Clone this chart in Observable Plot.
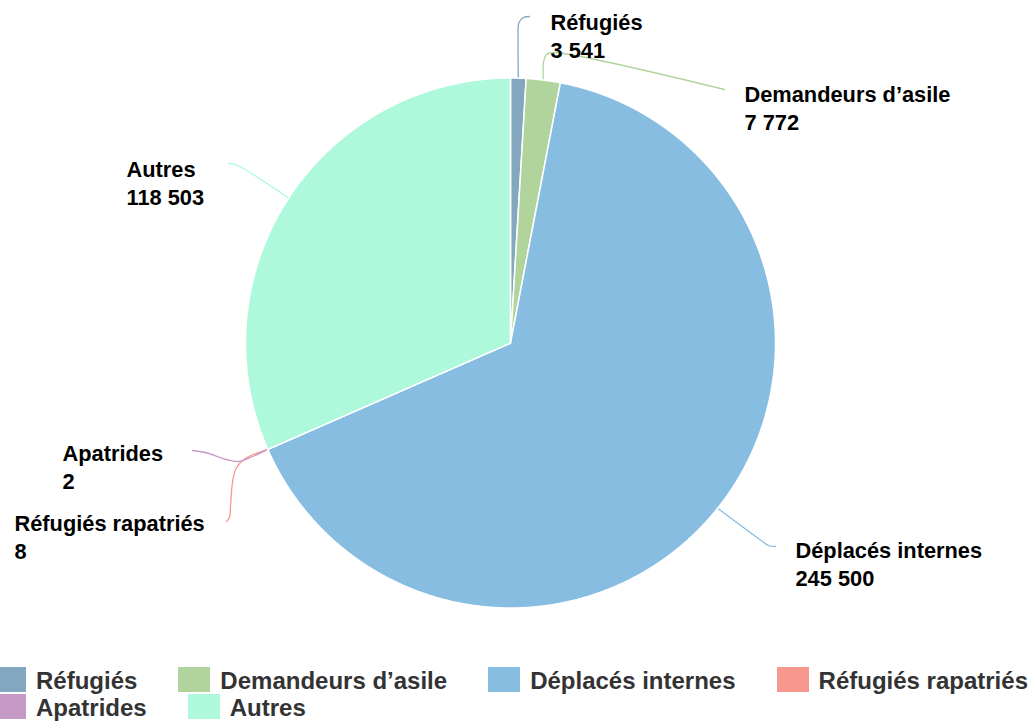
<!DOCTYPE html>
<html>
<head>
<meta charset="utf-8">
<script src="https://cdn.jsdelivr.net/npm/d3@7"></script>
<script src="https://cdn.jsdelivr.net/npm/@observablehq/plot@0.6"></script>
<style>
  html, body { margin: 0; padding: 0; background: #fff; }
  #chart svg { display: block; }
  #legend { position: relative; margin-left: -6px; width: 1040px; display: flex; flex-wrap: wrap; column-gap: 41px;
    font-family: "Liberation Sans", Arial, sans-serif; font-weight: bold; font-size: 24px; color: #333; line-height: 27px; }
  .item { display: flex; align-items: flex-start; height: 27px; white-space: nowrap; }
  .sw { width: 32px; height: 25px; margin-right: 10px; }
</style>
</head>
<body>
<div id="chart"></div>
<div id="legend"></div>
<script>
// ---- Data ----
const categories = ["Réfugiés", "Demandeurs d’asile", "Déplacés internes", "Réfugiés rapatriés", "Apatrides", "Autres"];
const values = [3541, 7772, 245500, 8, 2, 118503];
const colors = ["#83a7bf", "#b0d49c", "#86bde0", "#f8978e", "#c59ac6", "#aef8dc"];

// ---- Layout (pixels) ----
const CX = 510, CY = 342.5, R = 265;
const W = 1029, H = 667;
// label anchor: left x, baseline of the value line
const labelPos = [[550, 57], [744, 129], [795, 585], [14, 558], [62, 488], [126, 204]];
// connector waypoints after the slice edge point
const connectorPts = [
  [[517.6, 40], [518.5, 22], [523, 17], [529, 16]],
  [[543, 62], [546, 54], [553, 52], [724, 89]],
  [[762, 541], [768, 545], [775, 546]],
  [[245, 458], [236, 467], [232, 482], [230, 506], [229, 517], [226, 521]],
  [[250, 457], [238, 461], [226, 459], [205, 452], [192, 450]],
  [[243, 168], [235, 164], [228, 163]]
];

const ux = px => (px - CX) / R;
const uy = py => (CY - py) / R;

const fmt = d3.formatLocale({decimal: ",", thousands: " ", grouping: [3], currency: ["", ""]}).format(",d");

// pie geometry from the values
const total = d3.sum(values);
let acc = 0;
const slices = categories.map((name, i) => {
  const a0 = acc / total * 2 * Math.PI;
  acc += values[i];
  const a1 = acc / total * 2 * Math.PI;
  return {name, value: values[i], a0, a1, mid: (a0 + a1) / 2, i};
});

const slicePts = [];
for (const s of slices) {
  const n = Math.max(2, Math.ceil((s.a1 - s.a0) / (Math.PI / 720)));
  slicePts.push({name: s.name, x: 0, y: 0});
  for (let k = 0; k <= n; k++) {
    const a = s.a0 + (s.a1 - s.a0) * k / n;
    slicePts.push({name: s.name, x: Math.sin(a), y: Math.cos(a)});
  }
  slicePts.push({name: s.name, x: 0, y: 0});
}

const connPts = [];
slices.forEach((s, i) => {
  connPts.push({name: s.name, x: Math.sin(s.mid), y: Math.cos(s.mid)});
  for (const [px, py] of connectorPts[i]) connPts.push({name: s.name, x: ux(px), y: uy(py)});
});

const labels = slices.map((s, i) => ({
  name: s.name, x: ux(labelPos[i][0]), y: uy(labelPos[i][1]),
  text: s.name + "\n" + fmt(s.value)
}));

const plot = Plot.plot({
  width: W, height: H,
  margin: 0,
  style: {fontFamily: "'Liberation Sans', Arial, sans-serif", background: "#fff"},
  x: {domain: [-1, 1], range: [CX - R, CX + R], axis: null},
  y: {domain: [-1, 1], range: [CY + R, CY - R], axis: null},
  color: {domain: categories, range: colors},
  marks: [
    Plot.line(connPts, {x: "x", y: "y", z: "name", stroke: "name", strokeWidth: 1.3, curve: "catmull-rom"}),
    Plot.line(slicePts, {x: "x", y: "y", z: "name", fill: "name", stroke: "#fff", strokeWidth: 1.5, strokeLinejoin: "round", curve: "linear"}),
    Plot.text(labels, {x: "x", y: "y", text: "text", textAnchor: "start", lineAnchor: "bottom", lineHeight: 1.24,
      fontSize: 21.8, fontWeight: "bold", fill: "#000"})
  ]
});
document.getElementById("chart").appendChild(plot);

const legend = document.getElementById("legend");
categories.forEach((c, i) => {
  const it = document.createElement("div");
  it.className = "item";
  const sw = document.createElement("div");
  sw.className = "sw";
  sw.style.background = colors[i];
  const t = document.createElement("span");
  t.textContent = c;
  it.appendChild(sw); it.appendChild(t);
  legend.appendChild(it);
});
</script>
</body>
</html>
